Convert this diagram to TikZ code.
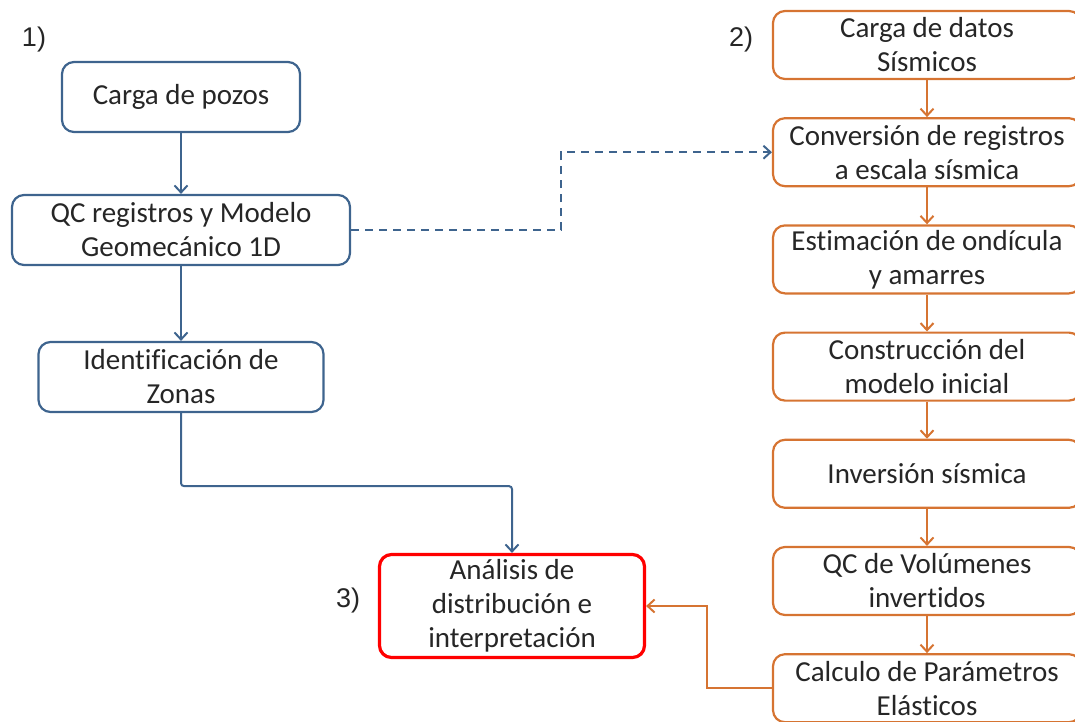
\documentclass[tikz,border=0pt]{standalone}
\usepackage{fontspec}
\setmainfont{Carlito}[Ligatures=NoCommon]
\newfontfamily\stepfont{Liberation Sans}
\usetikzlibrary{arrows.meta,positioning}
\definecolor{flowblue}{RGB}{62,100,142}
\definecolor{floworange}{RGB}{214,116,50}
\definecolor{flowred}{RGB}{255,0,0}
\definecolor{flowtext}{RGB}{38,38,38}

\begin{document}
\begin{tikzpicture}[x=1pt,y=-1pt,
  bluebox/.style={draw=flowblue,line width=2.2pt,rounded corners=12pt,align=center,
    text=flowtext,inner sep=0pt,minimum height=70pt,font=\fontsize{29}{34}\selectfont},
  orangebox/.style={bluebox,draw=floworange,minimum width=308pt,minimum height=68pt},
  redbox/.style={bluebox,draw=flowred,line width=3.2pt,minimum width=265pt,minimum height=103pt},
  bluearrow/.style={flowblue,line width=2pt,-{Straight Barb[length=7pt,width=13pt]}},
  orangearrow/.style={bluearrow,floworange},
  steplabel/.style={font=\stepfont\fontsize{27}{30}\selectfont,text=flowtext},
  node distance=37pt]
\useasboundingbox (0,0) rectangle (1075,721);

% 1) pozos
\node[steplabel] (lab1) at (34,40) {1)};
\node[bluebox,minimum width=238pt] (pozos) at (181,97) {Carga de pozos};
\node[bluebox,minimum width=338pt] (qc) at (181,230) {QC registros y Modelo\\Geomecánico 1D};
\node[bluebox,minimum width=285pt] (zonas) at (181,377) {Identificación de\\Zonas};

% 3) analisis
\node[steplabel] (lab3) at (348,600) {3)};
\node[redbox] (analisis) at (512,606) {Análisis de\\distribución e\\interpretación};

% 2) sismica
\node[steplabel] (lab2) at (741,40) {2)};
\node[orangebox] (carga) at (927,45) {Carga de datos\\Sísmicos};
\node[orangebox,below=of carga] (conv) {Conversión de registros\\a escala sísmica};
\node[orangebox,below=of conv] (ondi) {Estimación de ondícula\\y amarres};
\node[orangebox,below=of ondi] (inicial) {Construcción del\\modelo inicial};
\node[orangebox,below=of inicial] (inv) {Inversión sísmica};
\node[orangebox,below=of inv] (vol) {QC de Volúmenes\\invertidos};
\node[orangebox,below=of vol] (elast) {Calculo de Parámetros\\Elásticos};

\draw[bluearrow] (pozos) -- (qc);
\draw[bluearrow] (qc) -- (zonas);
\draw[bluearrow,rounded corners=3pt] (zonas.south) -- ++(0,73) -| (analisis.north);
\draw[bluearrow,dash pattern=on 8pt off 6pt] (qc.east) -- ++(210,0) |- (conv.west);

\draw[orangearrow] (carga) -- (conv);
\draw[orangearrow] (conv) -- (ondi);
\draw[orangearrow] (ondi) -- (inicial);
\draw[orangearrow] (inicial) -- (inv);
\draw[orangearrow] (inv) -- (vol);
\draw[orangearrow] (vol) -- (elast);
\draw[orangearrow] (elast.west) -- ++(-65,0) |- (analisis.east);
\end{tikzpicture}
\end{document}
